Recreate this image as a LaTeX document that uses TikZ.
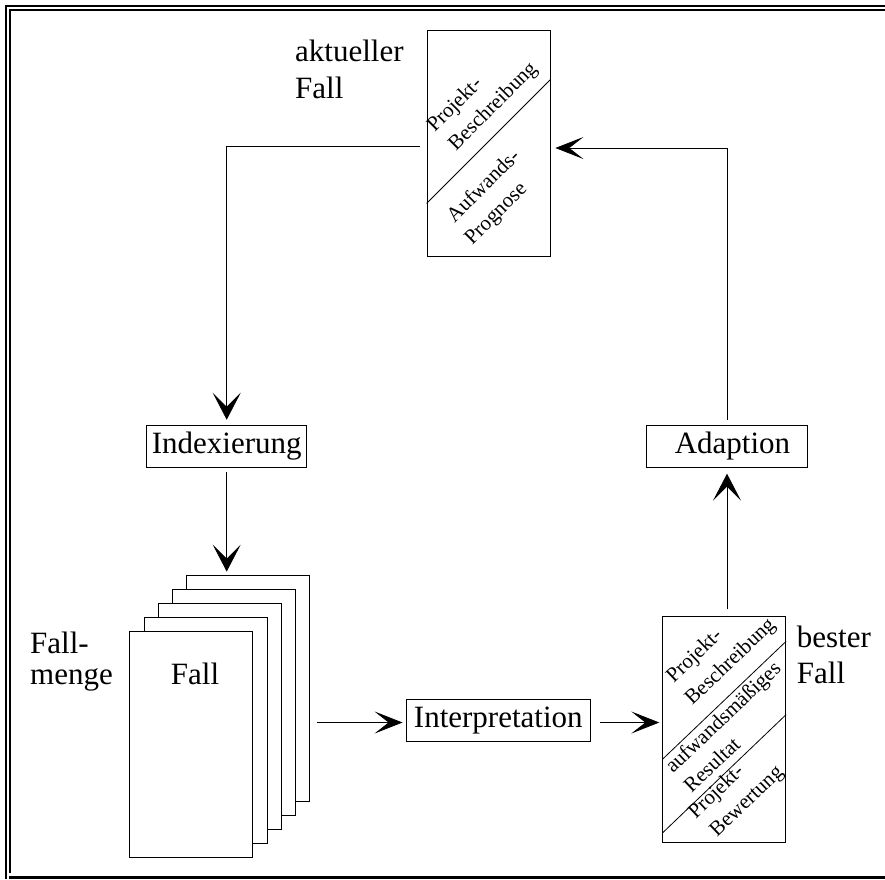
\documentclass[tikz,border=0pt]{standalone}
\usepackage{fontspec}
\setmainfont{Liberation Serif}
\usetikzlibrary{arrows.meta,calc}
\begin{document}
\begin{tikzpicture}[x=1pt,y=-1pt,
  big/.style={font=\fontsize{31}{36}\selectfont},
  smallbase/.style={font=\fontsize{21}{24}\selectfont, anchor=base west, inner sep=0pt},
  small/.style={smallbase, rotate=45},
  smallb/.style={smallbase, rotate=43.6},
  lab/.style={big, anchor=base west, inner sep=0pt},
  box/.style={draw, line width=0.8pt, inner sep=0pt, minimum width=123pt, minimum height=226pt},
  card/.style={box, fill=white},
  proc/.style={draw, line width=0.8pt, inner sep=0pt, big, minimum height=42.5pt},
  conn/.style={line width=0.8pt},
  arr/.style={conn, -{Stealth[length=27pt,width=28pt,inset=14pt]}},
  arrh/.style={conn, -{Stealth[length=28pt,width=22pt,inset=14pt]}},
  frameline/.style={line width=2pt}
]
\useasboundingbox (0,0) rectangle (885,879);
% frame
\draw[frameline] (6,879) -- (6,6) -- (885,6);
\draw[frameline] (10,873) -- (10,10) -- (885,10);
\draw[line width=3pt] (9,877.5) -- (885,877.5);

% current case
\node[box] (cur) at (488.5,143) {};
\draw[conn] ($(cur.south west)+(0,-53)$) -- ($(cur.north east)+(0,50)$);
\node[small] (tp1) at (434.8,133) {Projekt-};
\node[small] (tp2) at (456,151.4) {Beschreibung};
\node[small] (tp3) at (454.6,223.5) {Aufwands-};
\node[small] (tp4) at (472.3,245.4) {Prognose};
\node[lab] (akt1) at (295,61.7) {aktueller};
\node[lab] (akt2) at (295,98) {Fall};

% case base
\node[card] (card5) at (248,688) {};
\node[card] (card4) at (233.8,702.2) {};
\node[card] (card3) at (219.6,716.4) {};
\node[card] (card2) at (205.4,730.6) {};
\node[card] (card1) at (191.2,744.8) {};
\node[big, anchor=base, inner sep=0pt] (falltxt) at (195,684) {Fall};
\node[lab] (fm1) at (30,653) {Fall-};
\node[lab] (fm2) at (30,684) {menge};

% process boxes
\node[proc, minimum width=160pt] (idx) at (226.7,446.4) {Indexierung};
\node[proc, minimum width=160.6pt] (ada) at (727,446.4) {\hspace*{11pt}Adaption};
\node[proc, minimum width=184.7pt] (interp) at (498.3,720.5) {Interpretation};

% best case
\node[box] (best) at (724.2,729.7) {};
\draw[conn] ($(best.south west)+(0,-83.7)$) -- ($(best.north east)+(0,25)$);
\draw[conn] ($(best.south west)+(0,-10)$) -- ($(best.north east)+(0,98.3)$);
\node[smallb] (bp1) at (673.8,683.6) {Projekt-};
\node[smallb] (bp2) at (692.3,706) {Beschreibung};
\node[smallb] (bp3) at (672.9,774.1) {aufwandsmäßiges};
\node[smallb] (bp4) at (691.5,793.7) {Resultat};
\node[smallb] (bp5) at (695.6,819.3) {Projekt-};
\node[smallb] (bp6) at (717,837.4) {Bewertung};
\node[lab] (bf1) at (796.7,647) {bester};
\node[lab] (bf2) at (796.7,683) {Fall};

% connectors
\draw[arr] ($(cur.west)+(-7,3.7)$) -| ($(idx.north)+(0,-5)$);
\draw[arr] ($(idx.south)+(0,4)$) -- ($(idx.south |- card5.north)+(0,-3)$);
\draw[arrh] ($(card5.east |- interp.west)+(7,2)$) -- ($(interp.west)+(-3,2)$);
\draw[arrh] ($(interp.east)+(9,2)$) -- ($(best.west |- interp.east)+(-3,2)$);
\draw[arr] ($(ada.south |- best.north)+(0,-7)$) -- ($(ada.south)+(0,5.6)$);
\draw[arrh] ($(ada.north)+(0,-5)$) |- ($(cur.east)+(5,5)$);
\end{tikzpicture}
\end{document}
